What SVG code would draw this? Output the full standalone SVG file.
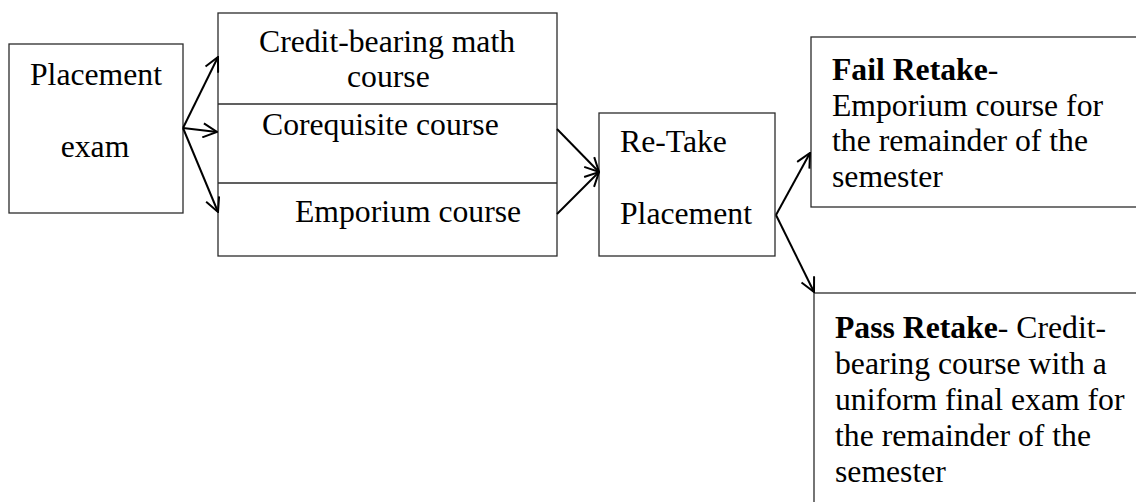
<svg xmlns="http://www.w3.org/2000/svg" width="1136" height="502" viewBox="0 0 1136 502">
  <style>
    .box { fill: #ffffff; stroke: #2b2b2b; stroke-width: 1.3; }
    .div { stroke: #2b2b2b; stroke-width: 1.3; }
    .lbl { font-family: "Liberation Serif", "Times New Roman", serif; font-size: 31.7px; fill: #000000; }
    .b { font-weight: bold; }
    .arrow { fill: none; stroke: #000000; stroke-width: 2; marker-end: url(#open); }
  </style>
  <defs>
    <marker id="open" viewBox="0 0 16 16" refX="15" refY="8" markerWidth="16" markerHeight="16" markerUnits="userSpaceOnUse" orient="auto">
      <path d="M1,1 L15,8 L1,15" fill="none" stroke="#000000" stroke-width="2"/>
    </marker>
  </defs>
  <rect width="1136" height="502" fill="#ffffff"/>

  <g id="placement-exam">
    <rect class="box" x="9" y="44" width="174" height="169"/>
    <text class="lbl" x="96" y="85" text-anchor="middle">Placement</text>
    <text class="lbl" x="95" y="157" text-anchor="middle">exam</text>
  </g>

  <g id="course-options">
    <rect class="box" x="218" y="13" width="339" height="243"/>
    <line class="div" x1="218" y1="104" x2="557" y2="104"/>
    <line class="div" x1="218" y1="183" x2="557" y2="183"/>
    <text class="lbl" x="259" y="52">Credit-bearing math</text>
    <text class="lbl" x="347" y="87">course</text>
    <text class="lbl" x="262" y="135">Corequisite course</text>
    <text class="lbl" x="295" y="222">Emporium course</text>
  </g>

  <g id="retake-placement">
    <rect class="box" x="599" y="113" width="176" height="143"/>
    <text class="lbl" x="620" y="152">Re-Take</text>
    <text class="lbl" x="620" y="224">Placement</text>
  </g>

  <g id="fail-retake">
    <rect class="box" x="811" y="37" width="340" height="170"/>
    <text class="lbl" x="832" y="80"><tspan class="b">Fail Retake</tspan>-</text>
    <text class="lbl" x="832" y="115.5">Emporium course for</text>
    <text class="lbl" x="832" y="151">the remainder of the</text>
    <text class="lbl" x="832" y="187">semester</text>
  </g>

  <g id="pass-retake">
    <rect class="box" x="814" y="293" width="340" height="230"/>
    <text class="lbl" x="835" y="338"><tspan class="b">Pass Retake</tspan>- Credit-</text>
    <text class="lbl" x="835" y="374">bearing course with a</text>
    <text class="lbl" x="835" y="410">uniform final exam for</text>
    <text class="lbl" x="835" y="446">the remainder of the</text>
    <text class="lbl" x="835" y="482">semester</text>
  </g>

  <g id="connectors">
    <line class="arrow" x1="183" y1="128" x2="218" y2="57"/>
    <line class="arrow" x1="183" y1="128" x2="217" y2="132"/>
    <line class="arrow" x1="183" y1="128" x2="218" y2="212"/>
    <line class="arrow" x1="557" y1="129" x2="599" y2="172"/>
    <line class="arrow" x1="557" y1="214" x2="599" y2="172"/>
    <line class="arrow" x1="776" y1="215" x2="810" y2="153"/>
    <line class="arrow" x1="776" y1="215" x2="814" y2="292"/>
  </g>
</svg>
